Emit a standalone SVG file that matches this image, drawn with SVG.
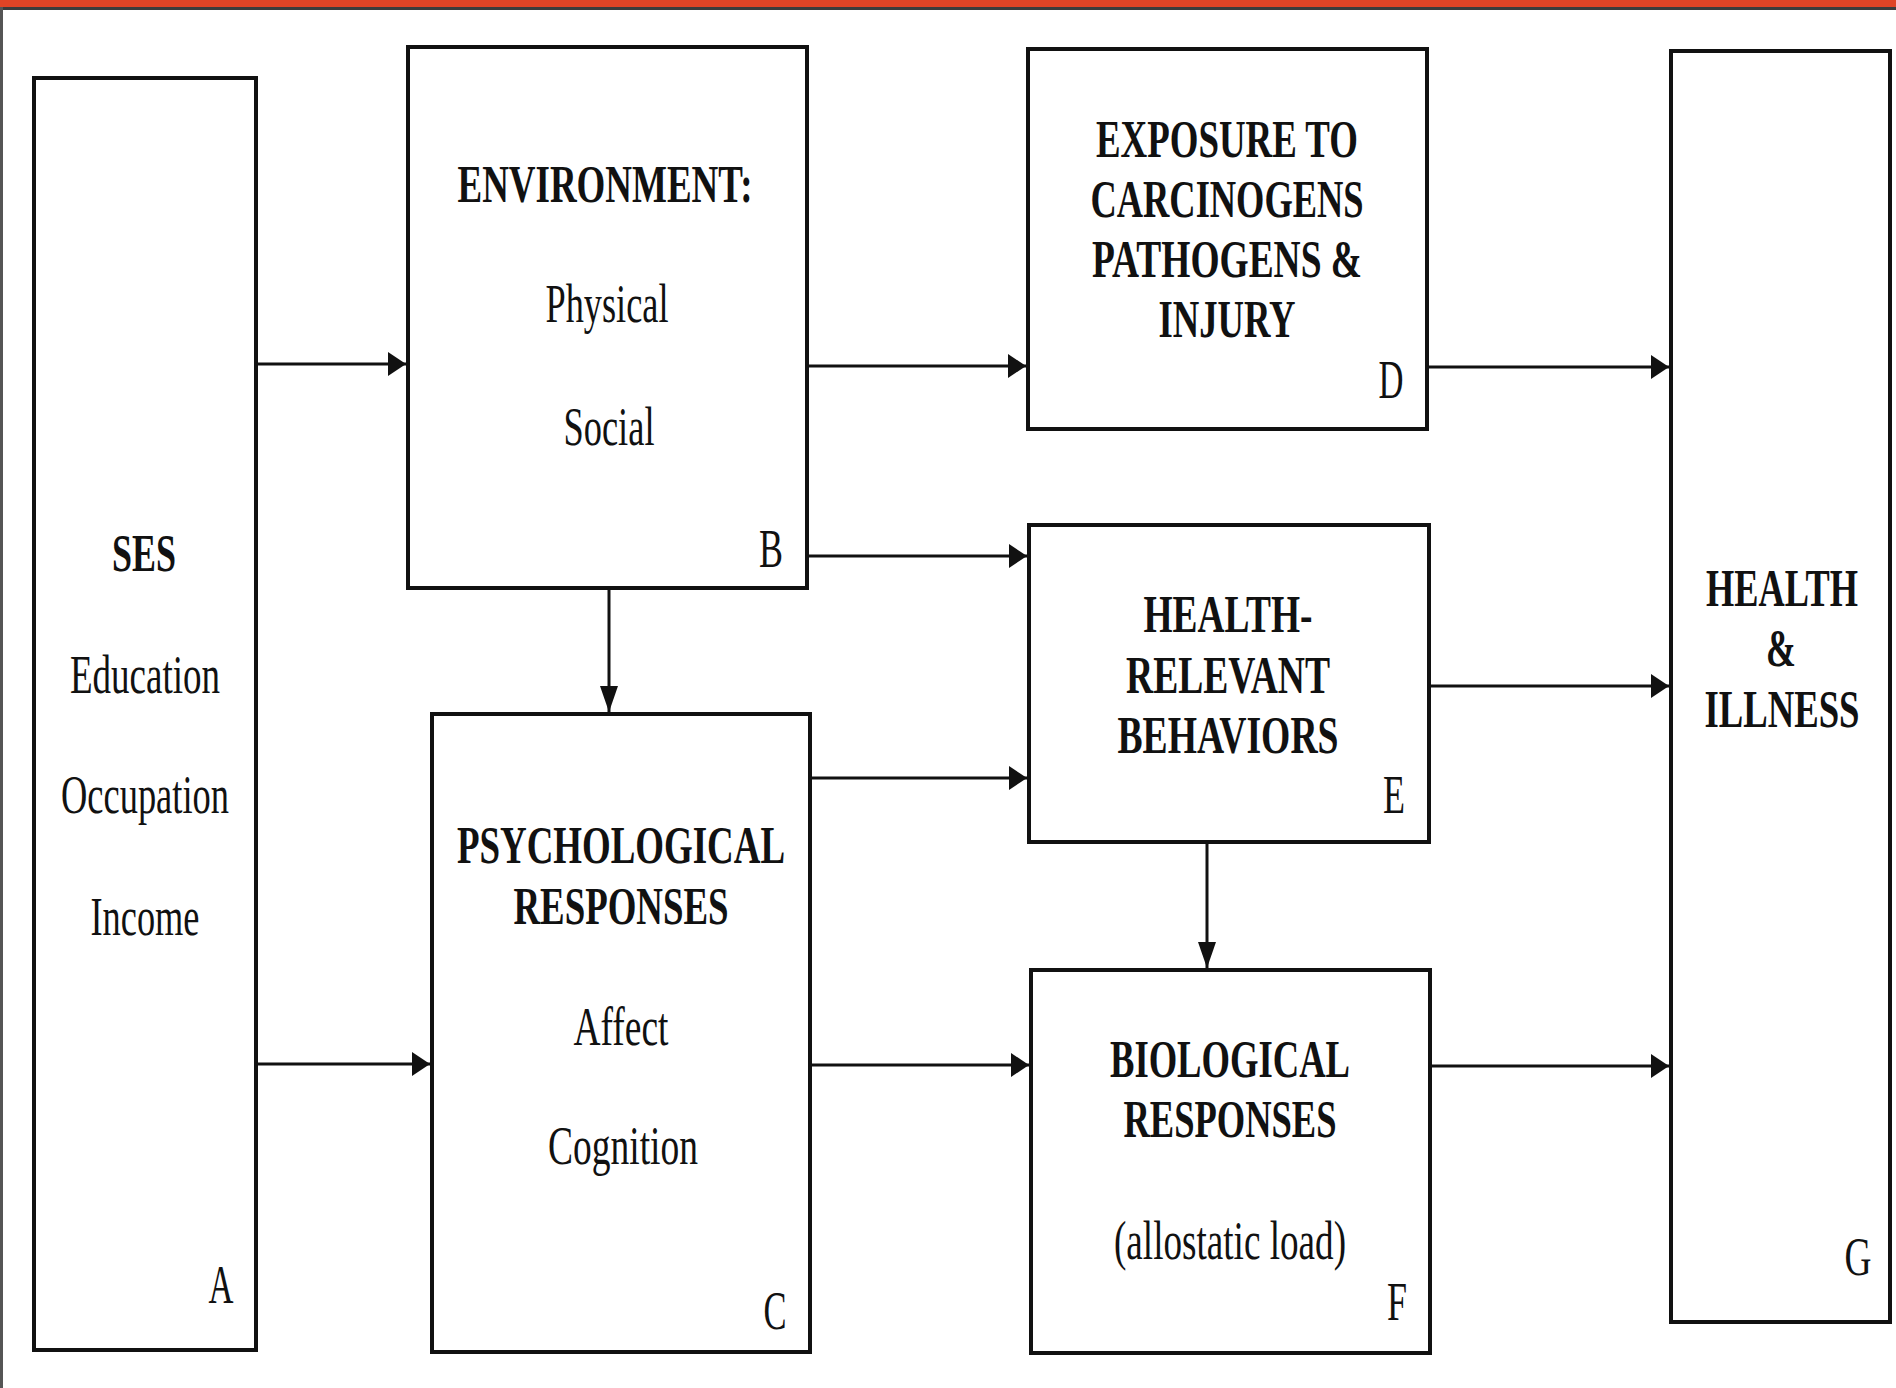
<svg xmlns="http://www.w3.org/2000/svg" width="1896" height="1388" viewBox="0 0 1896 1388">
  <style>
    .box { fill: #ffffff; stroke: #111111; stroke-width: 4; }
    .link { fill: none; stroke: #111111; stroke-width: 3; }
    .hdr { font-family: "Liberation Serif", "Times New Roman", serif; font-weight: bold; font-size: 52px; fill: #111111; text-anchor: middle; }
    .txt { font-family: "Liberation Serif", "Times New Roman", serif; font-size: 54px; fill: #111111; text-anchor: middle; }
    .tag { font-family: "Liberation Serif", "Times New Roman", serif; font-size: 54px; fill: #111111; text-anchor: middle; }
  </style>
  <defs>
    <marker id="arrow-h" markerUnits="userSpaceOnUse" markerWidth="20" markerHeight="26" refX="18" refY="12" orient="auto">
      <path d="M0,0 L18,12 L0,24 Z" fill="#111111"/>
    </marker>
    <marker id="arrow-v" markerUnits="userSpaceOnUse" markerWidth="28" markerHeight="20" refX="26" refY="9" orient="auto">
      <path d="M0,0 L26,9 L0,18 Z" fill="#111111"/>
    </marker>
  </defs>

  <!-- page -->
  <rect x="0" y="0" width="1896" height="1388" fill="#ffffff"/>
  <rect x="0" y="0" width="1896" height="7" fill="#e04426"/>
  <rect x="0" y="7" width="1896" height="3" fill="#3c3c3c"/>
  <rect x="0" y="7" width="3" height="1381" fill="#555555"/>

  <!-- A: SES -->
  <g id="node-A">
    <rect class="box" x="34" y="78" width="222" height="1272"/>
    <text class="hdr" x="144" y="571" textLength="64" lengthAdjust="spacingAndGlyphs">SES</text>
    <text class="txt" x="145" y="693" textLength="150" lengthAdjust="spacingAndGlyphs">Education</text>
    <text class="txt" x="145" y="813" textLength="168" lengthAdjust="spacingAndGlyphs">Occupation</text>
    <text class="txt" x="145" y="935" textLength="109" lengthAdjust="spacingAndGlyphs">Income</text>
    <text class="tag" x="221" y="1303" textLength="25" lengthAdjust="spacingAndGlyphs">A</text>
  </g>

  <!-- B: Environment -->
  <g id="node-B">
    <rect class="box" x="408" y="47" width="399" height="541"/>
    <text class="hdr" x="605" y="202" textLength="295" lengthAdjust="spacingAndGlyphs">ENVIRONMENT:</text>
    <text class="txt" x="607" y="322" textLength="123" lengthAdjust="spacingAndGlyphs">Physical</text>
    <text class="txt" x="609" y="445" textLength="91" lengthAdjust="spacingAndGlyphs">Social</text>
    <text class="tag" x="771" y="567" textLength="24" lengthAdjust="spacingAndGlyphs">B</text>
  </g>

  <!-- C: Psychological responses -->
  <g id="node-C">
    <rect class="box" x="432" y="714" width="378" height="638"/>
    <text class="hdr" x="621" y="863" textLength="328" lengthAdjust="spacingAndGlyphs">PSYCHOLOGICAL</text>
    <text class="hdr" x="621" y="924" textLength="215" lengthAdjust="spacingAndGlyphs">RESPONSES</text>
    <text class="txt" x="621" y="1045" textLength="95" lengthAdjust="spacingAndGlyphs">Affect</text>
    <text class="txt" x="623" y="1164" textLength="150" lengthAdjust="spacingAndGlyphs">Cognition</text>
    <text class="tag" x="775" y="1329" textLength="23" lengthAdjust="spacingAndGlyphs">C</text>
  </g>

  <!-- D: Exposure -->
  <g id="node-D">
    <rect class="box" x="1028" y="49" width="399" height="380"/>
    <text class="hdr" x="1227" y="157" textLength="262" lengthAdjust="spacingAndGlyphs">EXPOSURE TO</text>
    <text class="hdr" x="1227" y="217" textLength="273" lengthAdjust="spacingAndGlyphs">CARCINOGENS</text>
    <text class="hdr" x="1227" y="277" textLength="270" lengthAdjust="spacingAndGlyphs">PATHOGENS &amp;</text>
    <text class="hdr" x="1227" y="337" textLength="137" lengthAdjust="spacingAndGlyphs">INJURY</text>
    <text class="tag" x="1391" y="398" textLength="25" lengthAdjust="spacingAndGlyphs">D</text>
  </g>

  <!-- E: Health-relevant behaviors -->
  <g id="node-E">
    <rect class="box" x="1029" y="525" width="400" height="317"/>
    <text class="hdr" x="1228" y="632" textLength="169" lengthAdjust="spacingAndGlyphs">HEALTH-</text>
    <text class="hdr" x="1228" y="693" textLength="204" lengthAdjust="spacingAndGlyphs">RELEVANT</text>
    <text class="hdr" x="1228" y="753" textLength="221" lengthAdjust="spacingAndGlyphs">BEHAVIORS</text>
    <text class="tag" x="1394" y="813" textLength="22" lengthAdjust="spacingAndGlyphs">E</text>
  </g>

  <!-- F: Biological responses -->
  <g id="node-F">
    <rect class="box" x="1031" y="970" width="399" height="383"/>
    <text class="hdr" x="1230" y="1077" textLength="240" lengthAdjust="spacingAndGlyphs">BIOLOGICAL</text>
    <text class="hdr" x="1230" y="1137" textLength="213" lengthAdjust="spacingAndGlyphs">RESPONSES</text>
    <text class="txt" x="1230" y="1259" textLength="232" lengthAdjust="spacingAndGlyphs">(allostatic load)</text>
    <text class="tag" x="1397" y="1320" textLength="20" lengthAdjust="spacingAndGlyphs">F</text>
  </g>

  <!-- G: Health & illness (narrow column, so the headings are squeezed by a transform) -->
  <g id="node-G">
    <rect class="box" x="1671" y="51" width="219" height="1271"/>
    <text class="hdr" transform="translate(1782,606) scale(0.698,1)">HEALTH</text>
    <text class="hdr" transform="translate(1781,666) scale(0.69,1)">&amp;</text>
    <text class="hdr" transform="translate(1782,727) scale(0.706,1)">ILLNESS</text>
    <text class="tag" x="1858" y="1275" textLength="27" lengthAdjust="spacingAndGlyphs">G</text>
  </g>

  <!-- connectors -->
  <g id="connectors">
    <line class="link" x1="256" y1="364" x2="406" y2="364" marker-end="url(#arrow-h)"/>
    <line class="link" x1="256" y1="1064" x2="430" y2="1064" marker-end="url(#arrow-h)"/>
    <line class="link" x1="807" y1="366" x2="1026" y2="366" marker-end="url(#arrow-h)"/>
    <line class="link" x1="807" y1="556" x2="1027" y2="556" marker-end="url(#arrow-h)"/>
    <line class="link" x1="609" y1="588" x2="609" y2="712" marker-end="url(#arrow-v)"/>
    <line class="link" x1="810" y1="778" x2="1027" y2="778" marker-end="url(#arrow-h)"/>
    <line class="link" x1="810" y1="1065" x2="1029" y2="1065" marker-end="url(#arrow-h)"/>
    <line class="link" x1="1427" y1="367" x2="1669" y2="367" marker-end="url(#arrow-h)"/>
    <line class="link" x1="1429" y1="686" x2="1669" y2="686" marker-end="url(#arrow-h)"/>
    <line class="link" x1="1207" y1="842" x2="1207" y2="968" marker-end="url(#arrow-v)"/>
    <line class="link" x1="1430" y1="1066" x2="1669" y2="1066" marker-end="url(#arrow-h)"/>
  </g>
</svg>
